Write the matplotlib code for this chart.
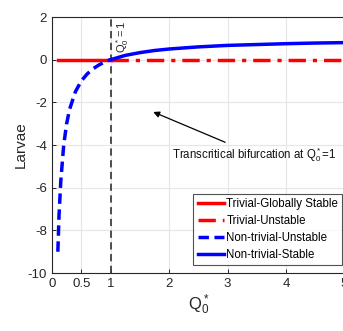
import matplotlib
matplotlib.use("Agg")
import matplotlib.pyplot as plt

plt.rcParams['font.family'] = ['Liberation Sans', 'DejaVu Sans']
plt.rcParams['mathtext.fontset'] = 'custom'
plt.rcParams['mathtext.rm'] = 'Liberation Sans'
plt.rcParams['mathtext.it'] = 'Liberation Sans'
plt.rcParams['axes.unicode_minus'] = False

# Non-trivial branch
q_unstable = [0.1, 0.12, 0.15, 0.2, 0.25, 0.3, 0.4, 0.5, 0.6, 0.7, 0.8, 0.9, 1.0]
l_unstable = [-9.0, -7.3, -5.7, -4.0, -3.0, -2.33, -1.5, -1.0, -0.67, -0.43, -0.25, -0.11, 0.0]
q_stable = [1.0, 1.25, 1.5, 1.75, 2.0, 2.5, 3.0, 3.5, 4.0, 4.5, 5.0]
l_stable = [0.0, 0.2, 0.33, 0.43, 0.5, 0.6, 0.67, 0.71, 0.75, 0.78, 0.8]
# Trivial branch
q_triv_stable = [0.1, 1.0]
l_triv_stable = [0.0, 0.0]
q_triv_unstable = [1.0, 5.0]
l_triv_unstable = [0.0, 0.0]

xticks = [0, 0.5, 1, 2, 3, 4, 5]
yticks = [-10, -8, -6, -4, -2, 0, 2]

fig = plt.figure(figsize=(3.43, 3.31), dpi=100)
ax = fig.add_axes([0.1516, 0.175, 0.853, 0.7736])

ax.plot(q_triv_stable, l_triv_stable, color='#ff0000', lw=2.5, label='Trivial-Globally Stable', zorder=3)
ax.plot(q_triv_unstable, l_triv_unstable, color='#ff0000', lw=2.5, linestyle=(0, (5, 2, 1.2, 2)), label='Trivial-Unstable', zorder=3)
ax.plot(q_unstable, l_unstable, color='#0000ff', lw=2.5, linestyle=(0, (3, 1.6)), label='Non-trivial-Unstable', zorder=4)
ax.plot(q_stable, l_stable, color='#0000ff', lw=2.5, label='Non-trivial-Stable', zorder=4)

ax.axvline(1, color='#404040', lw=1.3, linestyle=(0, (4, 2.5)), zorder=2)
ax.text(1.06, 1.85, r'$\mathregular{Q_0^*=1}$', rotation=90, ha='left', va='top', fontsize=8, color='#262626')

ax.annotate(r'Transcritical bifurcation at $\mathregular{Q_0^*}$=1', xy=(1.73, -2.45), xytext=(2.05, -4.0),
            fontsize=8.3, ha='left', va='top', color='#111111',
            arrowprops=dict(arrowstyle='-|>', color='black', lw=0.9, mutation_scale=9, shrinkA=0, shrinkB=0))

ax.set_xlim(0, 5)
ax.set_ylim(-10, 2)
ax.set_xticks(xticks)
ax.set_xticklabels(['0', '0.5', '1', '2', '3', '4', '5'])
ax.set_yticks(yticks)
ax.grid(True, color='#e6e6e6', lw=0.8)
ax.set_axisbelow(True)
ax.tick_params(direction='in', length=3, labelsize=9.5, colors='#262626', width=0.7)
for s in ax.spines.values():
    s.set_color('#262626')
    s.set_linewidth(0.8)

ax.set_xlabel(r'$\mathregular{Q_0^*}$', fontsize=12, color='#262626', labelpad=2)
ax.set_ylabel('Larvae', fontsize=11, color='#262626', labelpad=0)

leg = ax.legend(loc='lower right', fontsize=8.3, frameon=True, fancybox=False, edgecolor='#262626',
                handlelength=2.3, handletextpad=0.2, borderpad=0.35, labelspacing=0.45,
                borderaxespad=0.0, bbox_to_anchor=(0.992, 0.03))
leg.get_frame().set_linewidth(0.8)

fig.savefig('out.png', dpi=100)
